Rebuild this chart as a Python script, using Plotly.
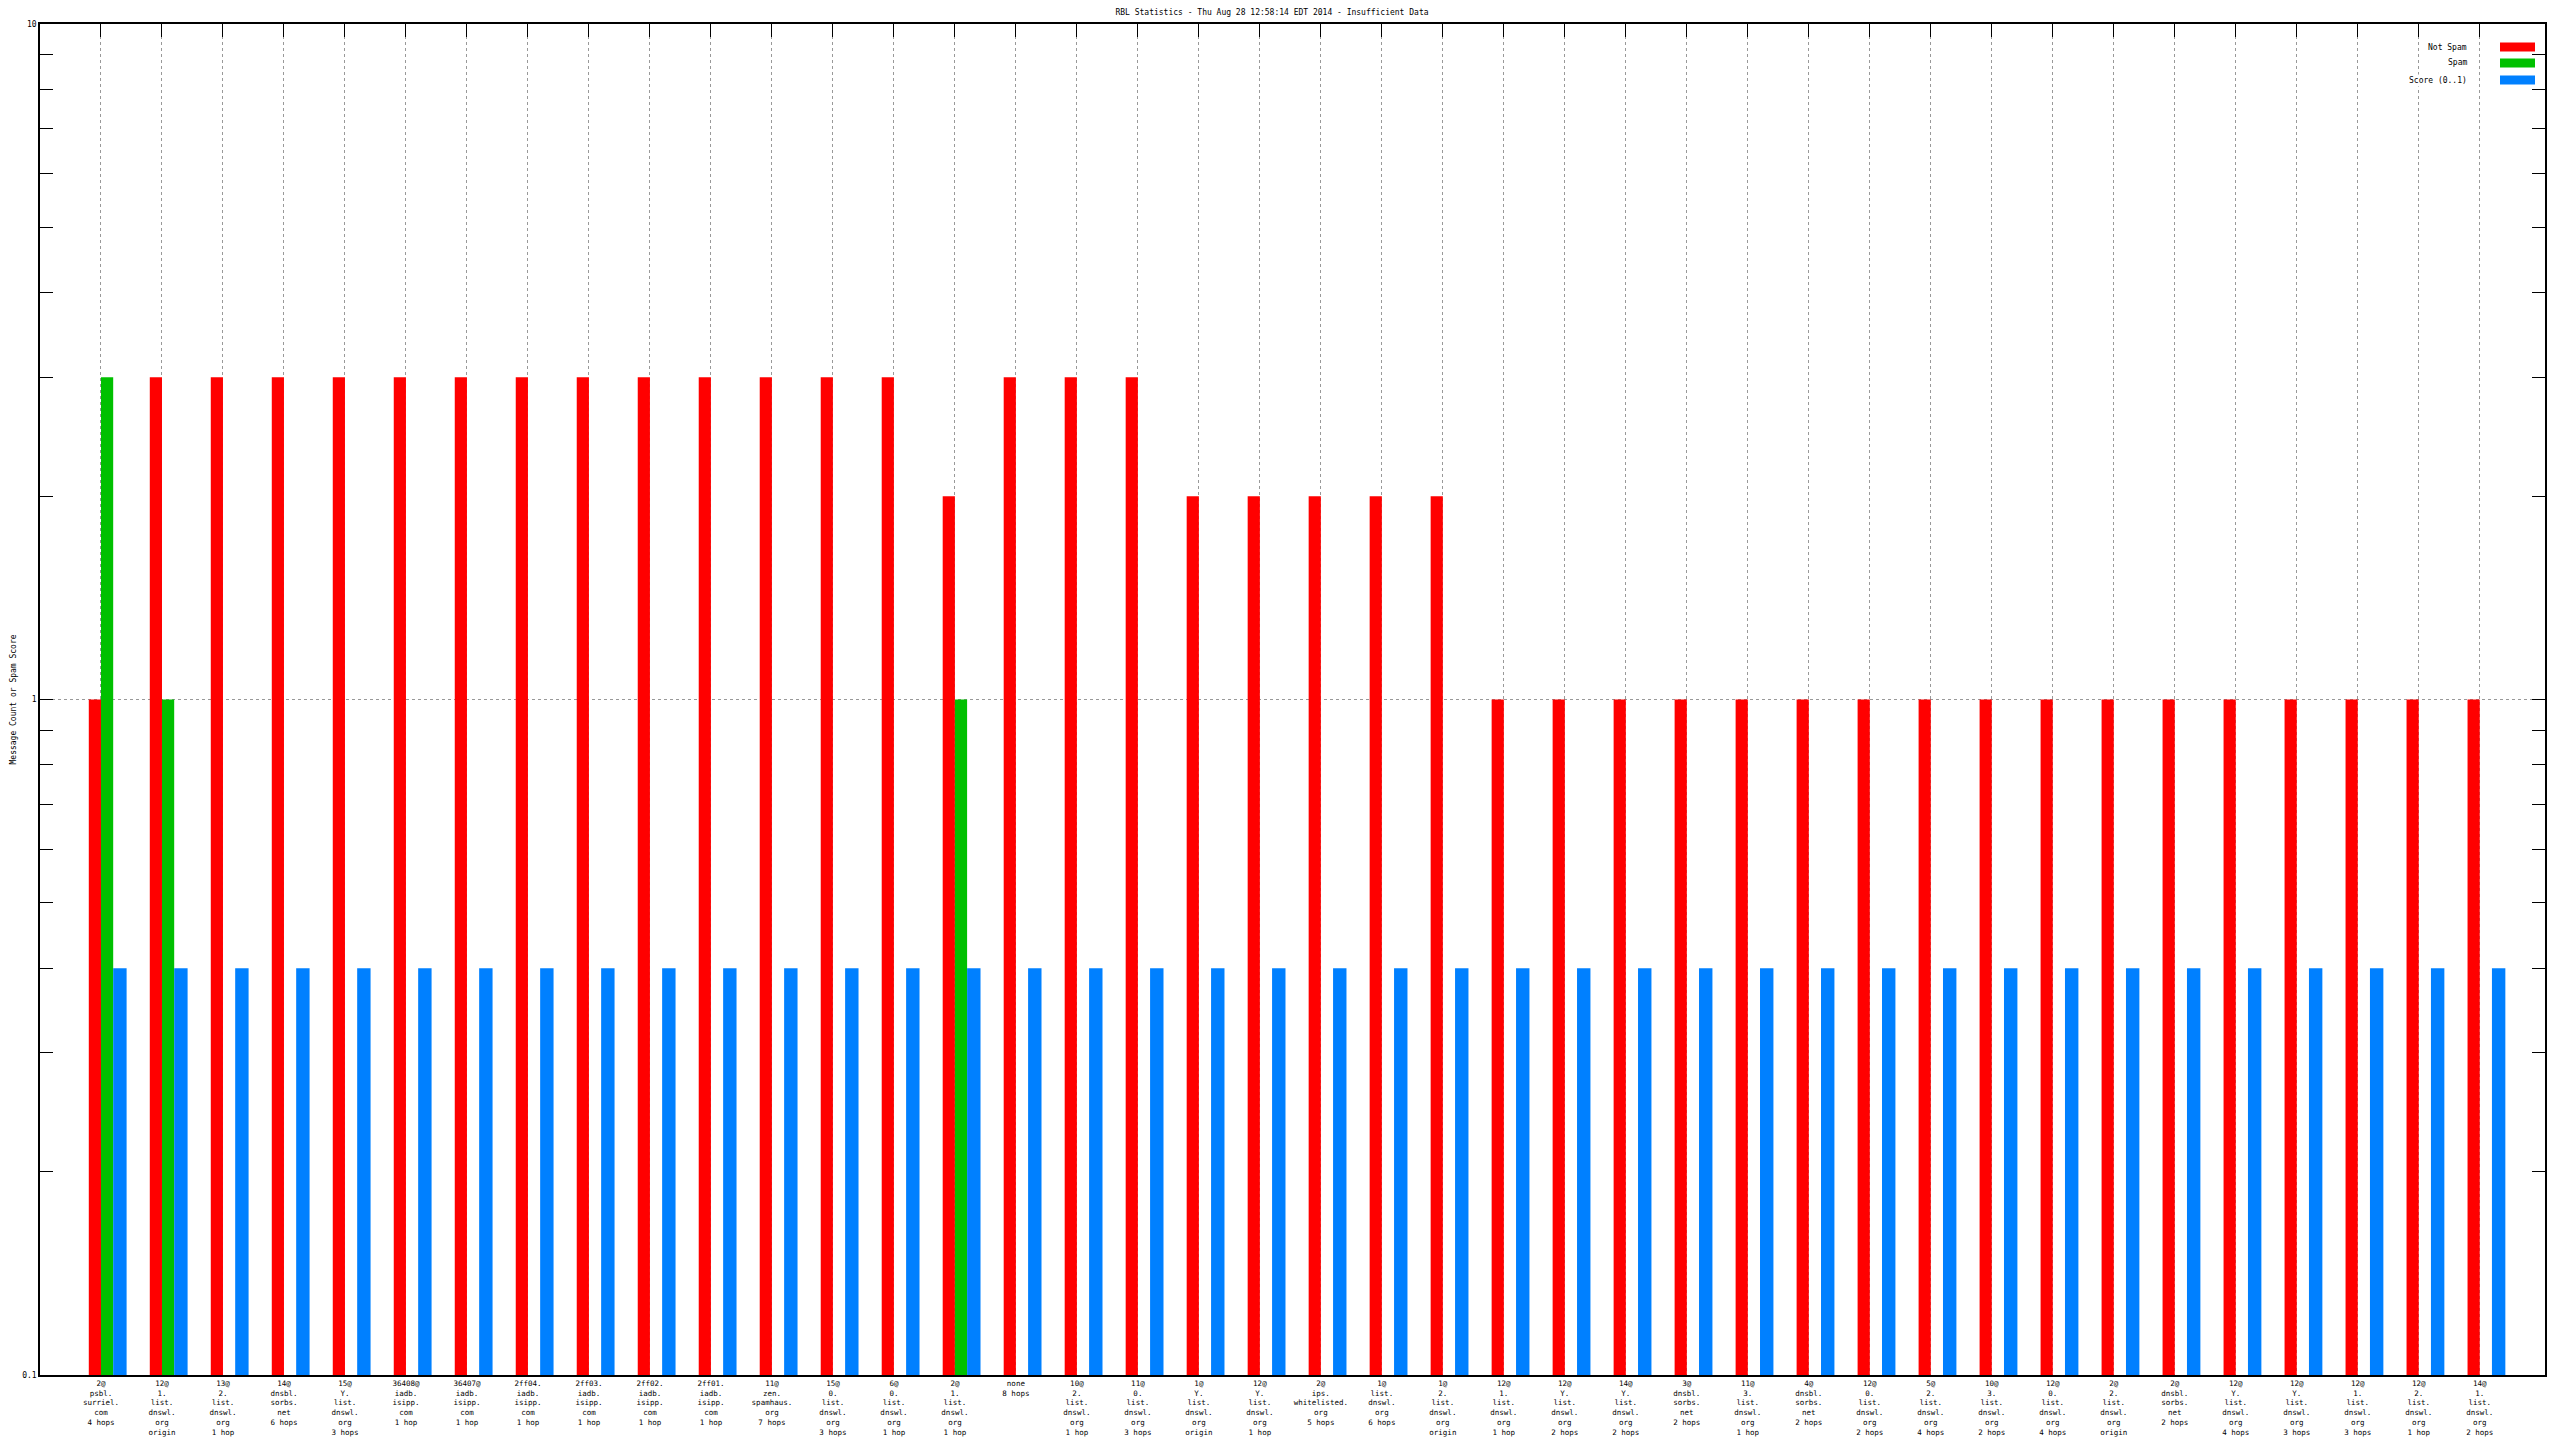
import plotly.graph_objects as go

# ---------------- data ----------------
categories = [
    ["2@", "psbl.", "surriel.", "com", "4 hops"],
    ["12@", "1.", "list.", "dnswl.", "org", "origin"],
    ["13@", "2.", "list.", "dnswl.", "org", "1 hop"],
    ["14@", "dnsbl.", "sorbs.", "net", "6 hops"],
    ["15@", "Y.", "list.", "dnswl.", "org", "3 hops"],
    ["36408@", "iadb.", "isipp.", "com", "1 hop"],
    ["36407@", "iadb.", "isipp.", "com", "1 hop"],
    ["2ff04.", "iadb.", "isipp.", "com", "1 hop"],
    ["2ff03.", "iadb.", "isipp.", "com", "1 hop"],
    ["2ff02.", "iadb.", "isipp.", "com", "1 hop"],
    ["2ff01.", "iadb.", "isipp.", "com", "1 hop"],
    ["11@", "zen.", "spamhaus.", "org", "7 hops"],
    ["15@", "0.", "list.", "dnswl.", "org", "3 hops"],
    ["6@", "0.", "list.", "dnswl.", "org", "1 hop"],
    ["2@", "1.", "list.", "dnswl.", "org", "1 hop"],
    ["none", "8 hops"],
    ["10@", "2.", "list.", "dnswl.", "org", "1 hop"],
    ["11@", "0.", "list.", "dnswl.", "org", "3 hops"],
    ["1@", "Y.", "list.", "dnswl.", "org", "origin"],
    ["12@", "Y.", "list.", "dnswl.", "org", "1 hop"],
    ["2@", "ips.", "whitelisted.", "org", "5 hops"],
    ["1@", "list.", "dnswl.", "org", "6 hops"],
    ["1@", "2.", "list.", "dnswl.", "org", "origin"],
    ["12@", "1.", "list.", "dnswl.", "org", "1 hop"],
    ["12@", "Y.", "list.", "dnswl.", "org", "2 hops"],
    ["14@", "Y.", "list.", "dnswl.", "org", "2 hops"],
    ["3@", "dnsbl.", "sorbs.", "net", "2 hops"],
    ["11@", "3.", "list.", "dnswl.", "org", "1 hop"],
    ["4@", "dnsbl.", "sorbs.", "net", "2 hops"],
    ["12@", "0.", "list.", "dnswl.", "org", "2 hops"],
    ["5@", "2.", "list.", "dnswl.", "org", "4 hops"],
    ["10@", "3.", "list.", "dnswl.", "org", "2 hops"],
    ["12@", "0.", "list.", "dnswl.", "org", "4 hops"],
    ["2@", "2.", "list.", "dnswl.", "org", "origin"],
    ["2@", "dnsbl.", "sorbs.", "net", "2 hops"],
    ["12@", "Y.", "list.", "dnswl.", "org", "4 hops"],
    ["12@", "Y.", "list.", "dnswl.", "org", "3 hops"],
    ["12@", "1.", "list.", "dnswl.", "org", "3 hops"],
    ["12@", "2.", "list.", "dnswl.", "org", "1 hop"],
    ["14@", "1.", "list.", "dnswl.", "org", "2 hops"],
]

not_spam = [1, 3, 3, 3, 3, 3, 3, 3, 3, 3, 3, 3, 3, 3, 2, 3, 3, 3, 2, 2,
            2, 2, 2, 1, 1, 1, 1, 1, 1, 1, 1, 1, 1, 1, 1, 1, 1, 1, 1, 1]
spam = [3, 1, None, None, None, None, None, None, None, None,
        None, None, None, None, 1, None, None, None, None, None,
        None, None, None, None, None, None, None, None, None, None,
        None, None, None, None, None, None, None, None, None, None]
score = [0.4, 0.4, 0.4, 0.4, 0.4, 0.4, 0.4, 0.4, 0.4, 0.4,
         0.4, 0.4, 0.4, 0.4, 0.4, 0.4, 0.4, 0.4, 0.4, 0.4,
         0.4, 0.4, 0.4, 0.4, 0.4, 0.4, 0.4, 0.4, 0.4, 0.4,
         0.4, 0.4, 0.4, 0.4, 0.4, 0.4, 0.4, 0.4, 0.4, 0.4]

series_names = ["Not Spam", "Spam", "Score (0..1)"]
series_colors = ["#FF0000", "#00C000", "#0080FF"]
y_tick_vals = [0.1, 1, 10]
y_tick_text = ["0.1", "1", "10"]
title_text = "RBL Statistics - Thu Aug 28 12:58:14 EDT 2014 - Insufficient Data"
y_title = "Message Count or Spam Score"

# ---------------- figure ----------------
W, H = 2560, 1440
ML, MR, MT, MB = 40, 15, 24, 65
PW, PH = W - ML - MR, H - MT - MB
FONT = "DejaVu Sans Mono"

x = list(range(1, len(categories) + 1))
ticktext = ["<br>".join(c) for c in categories]

fig = go.Figure()
offsets = [-0.2, 0.0, 0.2]
widths = [0.2, 0.2, 0.22]
for vals, name, col, off, wd in zip([not_spam, spam, score], series_names,
                                     series_colors, offsets, widths):
    fig.add_trace(go.Bar(x=x, y=vals, name=name, marker_color=col,
                         marker_line_width=0, offset=off, width=wd,
                         showlegend=False))

# hidden trace for top axis ticks
fig.add_trace(go.Scatter(x=x, y=[None] * len(x), xaxis="x2",
                         showlegend=False, hoverinfo="skip"))

fig.update_layout(
    width=W, height=H,
    margin=dict(l=ML, r=MR, t=MT, b=MB, pad=0),
    paper_bgcolor="white", plot_bgcolor="white",
    barmode="overlay",
    font=dict(family=FONT, size=8, color="black"),
    showlegend=False,
    xaxis=dict(
        range=[0, 41.07], tickmode="array", tickvals=x, ticktext=ticktext,
        ticks="", showline=True, linecolor="black", linewidth=1.5,
        mirror=True, showgrid=True, gridcolor="#999999", griddash="dot",
        gridwidth=1, zeroline=False, tickangle=0, automargin=False,
        tickfont=dict(family=FONT, size=7.5, color="black"),
        layer="below traces",
    ),
    xaxis2=dict(
        overlaying="x", side="top", matches="x", range=[0, 41.07],
        tickmode="array", tickvals=x, ticks="inside", ticklen=13,
        tickcolor="black", showticklabels=False, showgrid=False,
        showline=False, zeroline=False, automargin=False,
    ),
    yaxis=dict(
        type="log", range=[-1, 1], tickmode="array", tickvals=y_tick_vals,
        ticktext=y_tick_text, ticks="inside", ticklen=13, tickcolor="black",
        showline=True, linecolor="black", linewidth=1.5, mirror="allticks",
        showgrid=True, gridcolor="#999999", griddash="dot", zeroline=False,
        automargin=False,
        tickfont=dict(family=FONT, size=8, color="black"),
        minor=dict(ticks="inside", ticklen=8, tickcolor="black",
                   tickvals=[0.2, 0.3, 0.4, 0.5, 0.6, 0.7, 0.8, 0.9,
                             2, 3, 4, 5, 6, 7, 8, 9], showgrid=False),
        layer="below traces",
    ),
    title=dict(text=title_text, x=1272 / W, xref="container", xanchor="center",
               y=1 - 12 / H, yref="container", yanchor="middle",
               font=dict(family=FONT, size=8, color="black")),
)

def px_x(px):
    return (px - ML) / PW

def px_y(py):
    return (H - MB - py) / PH

fig.add_annotation(text=y_title, textangle=-90, xref="paper", yref="paper",
                   x=px_x(6), y=px_y(700), showarrow=False,
                   font=dict(family=FONT, size=8, color="black"))

# manual legend (text left of swatch)
legend_y = [47, 63, 80]
for name, col, ly in zip(series_names, series_colors, legend_y):
    fig.add_shape(type="rect", xref="paper", yref="paper",
                  x0=px_x(2500), x1=px_x(2535), y0=px_y(ly - 4.5), y1=px_y(ly + 4.5),
                  fillcolor=col, line_width=0)
    fig.add_annotation(text=name, xref="paper", yref="paper",
                       x=px_x(2469), y=px_y(ly), xanchor="right", yanchor="middle",
                       showarrow=False, bgcolor="white",
                       font=dict(family=FONT, size=8, color="black"))

fig.write_html("out.html", config={"displayModeBar": False},
               post_script="document.body.style.margin='0';")
